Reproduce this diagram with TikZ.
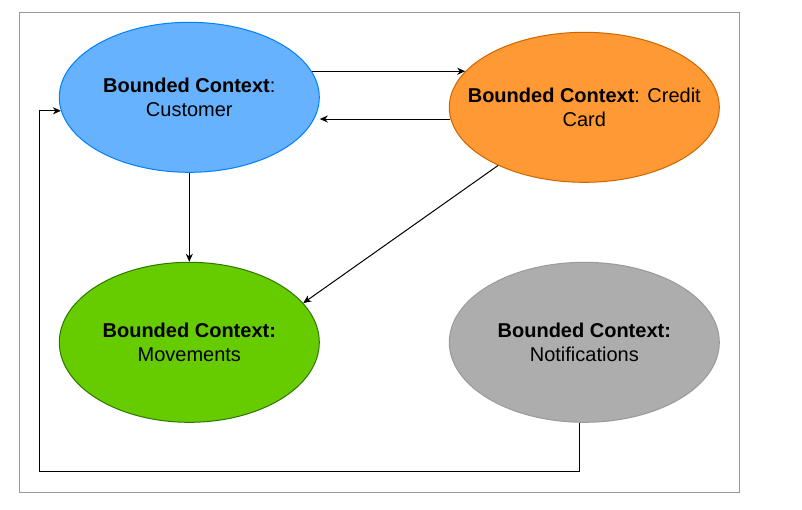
\documentclass[tikz,border=0pt]{standalone}
\usepackage{fontspec}
\setmainfont{Liberation Sans}
\usetikzlibrary{shapes.geometric,arrows.meta}
\definecolor{custfill}{HTML}{66B2FF}
\definecolor{custline}{HTML}{007FFF}
\definecolor{ccfill}{HTML}{FF9933}
\definecolor{ccline}{HTML}{CC6600}
\definecolor{movfill}{HTML}{66CC00}
\definecolor{movline}{HTML}{2D7600}
\definecolor{notfill}{HTML}{ADADAD}
\definecolor{notline}{HTML}{9A9A9A}
\definecolor{frameline}{HTML}{9A9A9A}
\tikzset{
  ctx/.style={ellipse, inner sep=0pt, line width=1pt},
  ctxtext/.style={align=center, font=\fontsize{20}{24}\selectfont, text=black},
  arr/.style={draw=black, line width=1pt, -{Stealth[length=8pt,width=7pt,inset=2.5pt]}},
}
\begin{document}
\begin{tikzpicture}[x=1pt,y=-1pt]
\useasboundingbox (0,0) rectangle (802,509);
\draw[frameline, line width=1pt] (19.5,12.3) rectangle (739.3,492);

\node[ctx, draw=custline, fill=custfill, minimum width=260pt, minimum height=150pt,
  label={[ctxtext]center:{\textbf{Bounded Context}:\\Customer}}] (cust) at (189.3,97.3) {};
\node[ctx, draw=ccline, fill=ccfill, minimum width=270pt, minimum height=150pt,
  label={[ctxtext]center:{\textbf{Bounded Context}: Credit\\Card}}] (cc) at (584.3,107.3) {};
\node[ctx, draw=movline, fill=movfill, minimum width=260pt, minimum height=160pt,
  label={[ctxtext]center:{\textbf{Bounded Context:}\\Movements}}] (mov) at (189.3,342.3) {};
\node[ctx, draw=notline, fill=notfill, minimum width=270pt, minimum height=160pt,
  label={[ctxtext]center:{\textbf{Bounded Context:}\\Notifications}}] (notif) at (584.3,342.3) {};

\coordinate (loopa) at (39.7,471.7);

\draw[arr] (cust.12.34) -- ([xshift=-2pt]cust.12.34 -| cc.162.7);
\draw[arr] (cc.185.6) -- (cc.185.6 -| cust.east);
\draw[arr] (cust.south) -- (mov.north);
\draw[arr] (cc.214.5) -- (mov.19.7);
\draw[arr] ([xshift=-4.6pt]notif.south) |- (loopa) |- (cust.186.9);
\end{tikzpicture}
\end{document}
